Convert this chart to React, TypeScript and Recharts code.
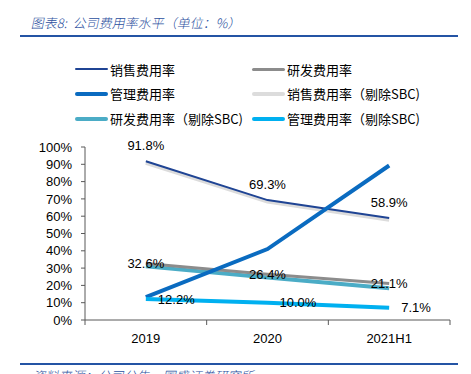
import { LineChart, Line, XAxis, YAxis, LabelList } from "recharts";

// 公司费用率水平（单位：%）
const years = ["2019", "2020", "2021H1"];
const salesRate = [91.8, 69.3, 58.9];
const rdRate = [32.6, 26.4, 21.1];
const adminRate = [13.2, 41.0, 89.3];
const salesExSbc = [90.8, 68.4, 57.9];
const rdExSbc = [31.0, 24.6, 18.3];
const adminExSbc = [12.2, 10.0, 7.1];
const yTicks = [0, 10, 20, 30, 40, 50, 60, 70, 80, 90, 100];

const data = years.map((year, i) => ({
  year,
  sales: salesRate[i],
  rd: rdRate[i],
  admin: adminRate[i],
  salesEx: salesExSbc[i],
  rdEx: rdExSbc[i],
  adminEx: adminExSbc[i],
}));

const W = 471;
const H = 374;
const PLOT_LEFT = 85;
const PLOT_RIGHT = 450;
const BAND = (PLOT_RIGHT - PLOT_LEFT) / years.length;

const NUM_FONT = "'Liberation Sans', Arial, sans-serif";
const CJK_FONT = "'Noto Sans CJK SC', 'Liberation Sans', sans-serif";
const AXIS = "#595959";
const BLUE_TITLE = "#2B4F9E";

const legendRows = [
  [
    { name: "销售费用率", color: "#1F4494", w: 2 },
    { name: "研发费用率", color: "#8C8C8C", w: 3 },
  ],
  [
    { name: "管理费用率", color: "#0A6BC0", w: 4 },
    { name: "销售费用率（剔除SBC)", color: "#DCDCDC", w: 4 },
  ],
  [
    { name: "研发费用率（剔除SBC)", color: "#4BACC6", w: 4 },
    { name: "管理费用率（剔除SBC)", color: "#00B0F0", w: 4 },
  ],
];

const LegendBox = () => (
  <div style={{ position: "absolute", left: 0, top: 60, width: W, height: 75 }}>
    {legendRows.map((row, r) =>
      row.map((item, c) => (
        <div
          key={item.name}
          style={{
            position: "absolute",
            left: c === 0 ? 75 : 252,
            top: r * 24.8,
            height: 18,
            display: "flex",
            alignItems: "center",
            fontFamily: CJK_FONT,
            fontSize: 13,
            color: "#000",
            whiteSpace: "nowrap",
          }}
        >
          <div
            style={{
              width: 33,
              height: item.w,
              background: item.color,
              borderRadius: item.w / 2,
              marginRight: 2,
            }}
          />
          {item.name}
        </div>
      ))
    )}
  </div>
);

const XTick = (props: any) => {
  const { x, y, payload, index } = props;
  return (
    <g>
      <line x1={x - BAND / 2} x2={x - BAND / 2} y1={y} y2={y + 5} stroke={AXIS} />
      {index === years.length - 1 && (
        <line x1={x + BAND / 2} x2={x + BAND / 2} y1={y} y2={y + 5} stroke={AXIS} />
      )}
      <text
        x={x}
        y={y + 18}
        textAnchor="middle"
        dominantBaseline="central"
        fontFamily={NUM_FONT}
        fontSize={13}
        fill="#000"
      >
        {payload.value}
      </text>
    </g>
  );
};

const labelStyle = { fontFamily: NUM_FONT, fontSize: 13, fill: "#000" };
const pct = (v: any) => `${Number(v).toFixed(1)}%`;

const noteStyle: any = {
  position: "absolute",
  fontFamily: CJK_FONT,
  fontSize: 13,
  fontWeight: 300,
  color: BLUE_TITLE,
  whiteSpace: "nowrap",
  transform: "skewX(-12deg)",
  transformOrigin: "left bottom",
};

export default function App() {
  return (
    <div
      style={{
        position: "absolute",
        left: 0,
        top: 0,
        width: W,
        height: H,
        background: "#fff",
        overflow: "hidden",
      }}
    >
      <div style={{ ...noteStyle, left: 30, top: 13 }}>
        图表8:&nbsp;&nbsp;公司费用率水平（单位：%）
      </div>
      <div
        style={{ position: "absolute", left: 20, top: 35, width: 438, height: 2, background: "#2454A4" }}
      />

      <LegendBox />

      <div style={{ position: "absolute", left: 0, top: 0 }}>
        <LineChart
          width={W}
          height={H}
          data={data}
          margin={{ top: 147, right: W - PLOT_RIGHT, bottom: 24, left: 0 }}
        >
          <XAxis
            dataKey="year"
            scale="band"
            height={30}
            axisLine={{ stroke: AXIS }}
            tickLine={false}
            tickSize={0}
            tickMargin={0}
            tick={<XTick />}
            interval={0}
          />
          <YAxis
            width={PLOT_LEFT}
            domain={[0, 100]}
            ticks={yTicks}
            interval={0}
            tickFormatter={(v) => `${v}%`}
            axisLine={{ stroke: AXIS }}
            tickLine={{ stroke: AXIS }}
            tickSize={4}
            tickMargin={9}
            tick={{ fontFamily: NUM_FONT, fontSize: 13, fill: "#000" }}
          />
          <Line dataKey="salesEx" stroke="#DCDCDC" strokeWidth={4} dot={false} isAnimationActive={false} />
          <Line dataKey="rdEx" stroke="#4BACC6" strokeWidth={4} dot={false} isAnimationActive={false} />
          <Line dataKey="rd" stroke="#8C8C8C" strokeWidth={3} dot={false} isAnimationActive={false}>
            <LabelList dataKey="rd" position="center" formatter={pct} style={labelStyle} />
          </Line>
          <Line dataKey="sales" stroke="#1F4494" strokeWidth={2} dot={false} isAnimationActive={false}>
            <LabelList dataKey="sales" position="top" offset={11} formatter={pct} style={labelStyle} />
          </Line>
          <Line dataKey="admin" stroke="#0A6BC0" strokeWidth={4} dot={false} isAnimationActive={false} />
          <Line dataKey="adminEx" stroke="#00B0F0" strokeWidth={4} dot={false} isAnimationActive={false}>
            <LabelList dataKey="adminEx" position="right" offset={12} formatter={pct} style={labelStyle} />
          </Line>
        </LineChart>
      </div>

      <div
        style={{ position: "absolute", left: 20, top: 363, width: 438, height: 2, background: "#2454A4" }}
      />
      <div style={{ ...noteStyle, left: 32, top: 366 }}>资料来源：公司公告，国盛证券研究所</div>
    </div>
  );
}
